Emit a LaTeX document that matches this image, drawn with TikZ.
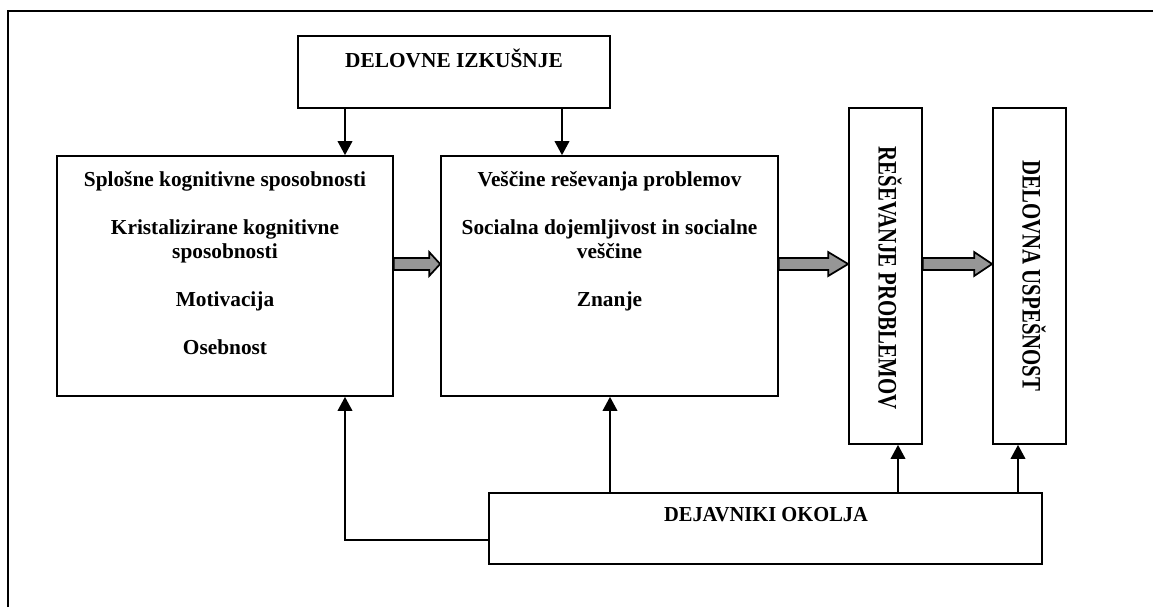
\documentclass[tikz,border=0pt]{standalone}
\usepackage{fontspec}
\usepackage{graphicx}
\setmainfont{Liberation Serif}
\usetikzlibrary{arrows.meta,fit,calc}
\definecolor{arrowgray}{RGB}{150,150,150}
\tikzset{
  box/.style={draw, line width=1.3pt, inner sep=0pt, fill=white},
  txt/.style={font=\bfseries\fontsize{16pt}{18pt}\selectfont, align=center, inner sep=0pt},
  vtxt/.style={font=\bfseries\fontsize{20pt}{22pt}\selectfont, inner sep=0pt, rotate=-90},
  link/.style={line width=1.1pt, -{Triangle[length=10.5pt,width=11pt]}},
  fat/.style={line width=1.3pt, fill=arrowgray, draw=black, line join=miter},
  frame/.style={line width=2.2pt},
}
% broad grey arrow from the east side of #1 to the west side of #2, head length #3
\newcommand\fatarrow[3]{%
  \draw[fat] ($(#1.east |- yarr)+(0,-6)$) -- ($(#2.west |- yarr)+(-#3,-6)$) -- ++(0,-6)
    -- (#2.west |- yarr) -- ($(#2.west |- yarr)+(-#3,12)$) -- ++(0,-6)
    -- ($(#1.east |- yarr)+(0,6)$) -- cycle;}
\begin{document}
\begin{tikzpicture}[x=0.75pt,y=-0.75pt]
\useasboundingbox (0,0) rectangle (1153,607);
\draw[frame] (8,607) -- (8,11) -- (1153,11);

% helper coordinates for connector positions
\coordinate (xa) at (345,0);
\coordinate (xb) at (562,0);
\coordinate (xm) at (610,0);
\coordinate (xc) at (898,0);
\coordinate (xd) at (1018,0);
\coordinate (ya) at (0,540);
\coordinate (yarr) at (0,264);

% boxes
\node[box, fit={(298,36)(610,108)}] (exp) {};
\node[txt] (expT) at (454,58) {DELOVNE IZKUŠNJE};

\node[box, fit={(57,156)(393,396)}] (cog) {};
\node[txt, anchor=north] (cogT) at (225,169) {\strut Splošne kognitivne sposobnosti\\[18pt]
  Kristalizirane kognitivne\\ sposobnosti\\[18pt] Motivacija\\[18pt] Osebnost};

\node[box, fit={(441,156)(778,396)}] (skl) {};
\node[txt, anchor=north] (sklT) at (609.5,169) {\strut Veščine reševanja problemov\\[18pt]
  Socialna dojemljivost in socialne\\ veščine\\[18pt] Znanje};

\node[box, fit={(849,108)(922,444)}] (rp) {};
\node[vtxt] (rpT) at (890,278) {\scalebox{0.78}[1]{REŠEVANJE PROBLEMOV}};

\node[box, fit={(993,108)(1066,444)}] (du) {};
\node[vtxt] (duT) at (1034,276) {\scalebox{0.78}[1]{DELOVNA USPEŠNOST}};

\node[box, fit={(489,493)(1042,564)}] (env) {};
\node[txt] (envT) at (766,515) {\scalebox{0.96}[1]{DEJAVNIKI OKOLJA}};

% thin connectors
\draw[link] (exp.south -| xa) -- (cog.north -| xa);
\draw[link] (exp.south -| xb) -- (skl.north -| xb);
\draw[link] (env.west |- ya) -| (cog.south -| xa);
\draw[link] (env.north -| xm) -- (skl.south -| xm);
\draw[link] (env.north -| xc) -- (rp.south -| xc);
\draw[link] (env.north -| xd) -- (du.south -| xd);

% broad grey arrows
\fatarrow{cog}{skl}{11}
\fatarrow{skl}{rp}{20}
\fatarrow{rp}{du}{18}
\end{tikzpicture}
\end{document}
